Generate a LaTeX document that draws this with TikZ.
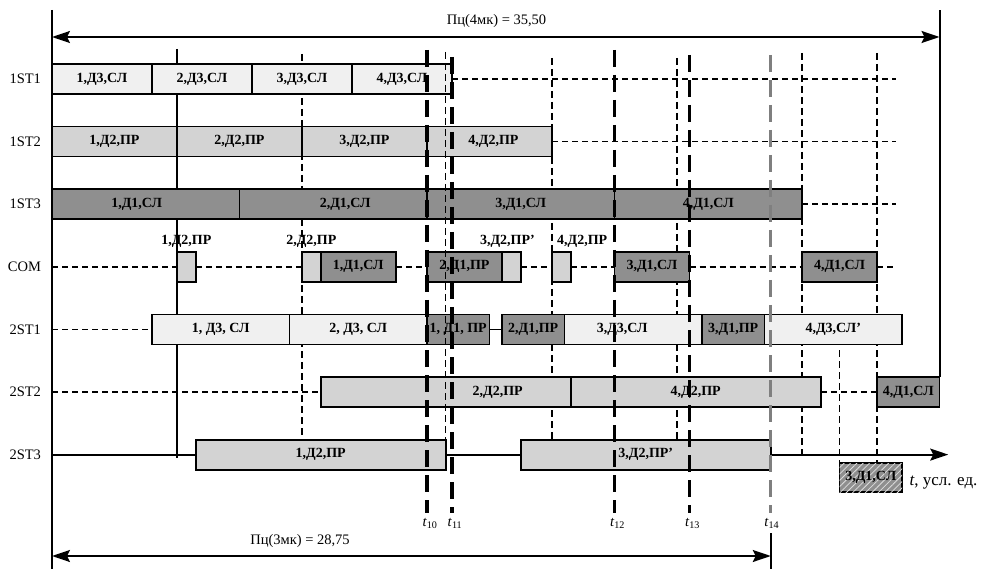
\documentclass[tikz,border=0pt]{standalone}
\usepackage{fontspec}
\setmainfont{Liberation Serif}
\usetikzlibrary{positioning,arrows.meta,patterns.meta}
\definecolor{segLight}{HTML}{F0F0F0}
\definecolor{segMid}{HTML}{D3D3D3}
\definecolor{segDark}{HTML}{8F8F8F}
\definecolor{markGray}{HTML}{7F7F7F}
\newcommand{\tmark}[1]{\textit{t}\textsubscript{#1}}
\tikzset{
  seg/.style={draw, line width=1.8pt, minimum height=30pt, inner sep=0pt, outer sep=0pt, anchor=west, font=\fontsize{14}{16}\selectfont\bfseries},
  lightseg/.style={seg, fill=segLight},
  midseg/.style={seg, fill=segMid},
  darkseg/.style={seg, fill=segDark},
  hatchseg/.style={seg, fill=segDark, postaction={pattern={Lines[angle=45,distance=4.5pt,line width=0.8pt]}, pattern color=white!70!segDark}},
  seglab/.style={font=\fontsize{14}{16}\selectfont\bfseries, inner sep=0pt},
  comlab/.style={font=\fontsize{14}{16}\selectfont\bfseries, inner sep=1pt},
  rowlab/.style={anchor=east, font=\fontsize{14.5}{16}\selectfont},
  rowdash/.style={line width=1.8pt, dash pattern=on 6pt off 4pt},
  rowline/.style={line width=1.8pt},
  thindash/.style={line width=1.4pt, dash pattern=on 7pt off 4pt},
  thickdash/.style={line width=3.2pt, dash pattern=on 17pt off 8pt},
  spanarr/.style={{Stealth[length=18pt,width=12pt,inset=3pt]}-{Stealth[length=18pt,width=12pt,inset=3pt]}, line width=2pt},
  tlab/.style={font=\fontsize{14.5}{16}\selectfont, xshift=3pt}
}
\begin{document}
\begin{tikzpicture}[x=25pt, y=-1pt]
\useasboundingbox (-2.08,0) rectangle (37.64,569);
\coordinate (ax) at (0,10);
\coordinate (rend) at (33.75,10);

% guide lines behind the bars
\draw[line width=1.4pt] (5,49) -- (5,458);
\draw[thindash] (10,54) -- (10,440);
\draw[thindash] (20,58) -- (20,440);
\draw[thindash] (25,58) -- (25,440);
\draw[thindash] (30,53) -- (30,458);
\draw[thindash] (31.5,350) -- (31.5,463);
\draw[thindash] (33,53) -- (33,463);

% row labels
\node[rowlab] (l1) at (-0.3,79) {1ST1};
\node[rowlab] (l2) at (-0.3,141.6) {1ST2};
\node[rowlab] (l3) at (-0.3,204.2) {1ST3};
\node[rowlab] (l4) at (-0.3,266.8) {COM};
\node[rowlab] (l5) at (-0.3,329.4) {2ST1};
\node[rowlab] (l6) at (-0.3,392) {2ST2};
\node[rowlab] (l7) at (-0.3,454.6) {2ST3};

% 1ST1
\node[lightseg, minimum width=100pt] (a1) at (0,79) {1,Д3,СЛ};
\node[lightseg, minimum width=100pt, right=0pt of a1] (a2) {2,Д3,СЛ};
\node[lightseg, minimum width=100pt, right=0pt of a2] (a3) {3,Д3,СЛ};
\node[lightseg, minimum width=100pt, right=0pt of a3] (a4) {4,Д3,СЛ};
% 1ST2
\node[midseg, minimum width=125pt] (b1) at (0,141.6) {1,Д2,ПР};
\node[midseg, minimum width=125pt, right=0pt of b1] (b2) {2,Д2,ПР};
\node[midseg, minimum width=125pt, right=0pt of b2] (b3) {3,Д2,ПР};
\node[midseg, minimum width=125pt, right=0pt of b3, label={[seglab, xshift=4pt]center:4,Д2,ПР}] (b4) {};
% 1ST3
\node[darkseg, minimum width=187.5pt, label={[seglab, xshift=-9pt]center:1,Д1,СЛ}] (c1) at (0,204.2) {};
\node[darkseg, minimum width=187.5pt, right=0pt of c1, label={[seglab, xshift=12pt]center:2,Д1,СЛ}] (c2) {};
\node[darkseg, minimum width=187.5pt, right=0pt of c2] (c3) {3,Д1,СЛ};
\node[darkseg, minimum width=187.5pt, right=0pt of c3] (c4) {4,Д1,СЛ};
% COM
\node[midseg, minimum width=18.75pt] (m1) at (5,266.8) {};
\node[midseg, minimum width=18.75pt] (m2) at (10,266.8) {};
\node[darkseg, minimum width=75pt, right=0pt of m2] (m3) {1,Д1,СЛ};
\node[darkseg, minimum width=75pt] (m4) at (15,266.8) {2,Д1,ПР};
\node[midseg, minimum width=18.75pt, right=0pt of m4] (m5) {};
\node[midseg, minimum width=18.75pt] (m6) at (20,266.8) {};
\node[darkseg, minimum width=75pt] (m7) at (22.5,266.8) {3,Д1,СЛ};
\node[darkseg, minimum width=75pt] (m8) at (30,266.8) {4,Д1,СЛ};
\node[comlab, above=3pt of m1] (n1) {1,Д2,ПР};
\node[comlab, above=3pt of m2] (n2) {2,Д2,ПР};
\node[comlab, above=3pt of m5, xshift=-4pt] (n3) {3,Д2,ПР’};
\node[comlab, anchor=south west] (n4) at ([xshift=4pt,yshift=3pt]m6.north west) {4,Д2,ПР};
% 2ST1
\node[lightseg, minimum width=137.5pt] (d1) at (4,329.4) {1, Д3, СЛ};
\node[lightseg, minimum width=137.5pt, right=0pt of d1] (d2) {2, Д3, СЛ};
\node[darkseg, minimum width=62.5pt, right=0pt of d2] (d3) {1, Д1, ПР};
\node[darkseg, minimum width=62.5pt] (d4) at (18,329.4) {2,Д1,ПР};
\node[lightseg, minimum width=137.5pt, right=0pt of d4, label={[seglab, xshift=-11pt]center:3,Д3,СЛ}] (d5) {};
\node[darkseg, minimum width=62.5pt, right=0pt of d5] (d6) {3,Д1,ПР};
\node[lightseg, minimum width=137.5pt, right=0pt of d6] (d7) {4,Д3,СЛ’};
% 2ST2
\node[midseg, minimum width=250pt, label={[seglab, xshift=52pt]center:2,Д2,ПР}] (e1) at (10.75,392) {};
\node[midseg, minimum width=250pt, right=0pt of e1] (e2) {4,Д2,ПР};
\node[darkseg, minimum width=62.5pt] (e3) at (33,392) {4,Д1,СЛ};
% 2ST3
\node[midseg, minimum width=250pt] (f1) at (5.75,454.6) {1,Д2,ПР};
\node[midseg, minimum width=250pt] (f2) at (18.75,454.6) {3,Д2,ПР’};
\node[hatchseg, minimum width=62.5pt, minimum height=29pt] (h) at (31.5,477.5) {3,Д1,СЛ};
\node[right=4pt of h, yshift=-5pt, font=\fontsize{17}{20}\selectfont] (tax) {\textit{t}, усл. ед.};

% row lines
\draw[rowdash] (a4.east) -- (rend |- a4);
\draw[rowdash] (b4.east) -- (rend |- b4);
\draw[rowdash] (c4.east) -- (rend |- c4);
\draw[rowdash] (ax |- m1) -- (m1.west);
\draw[rowdash] (m1.east) -- (m2.west);
\draw[rowdash] (m3.east) -- (m4.west);
\draw[rowdash] (m5.east) -- (m6.west);
\draw[rowdash] (m6.east) -- (m7.west);
\draw[rowdash] (m7.east) -- (m8.west);
\draw[rowdash] (m8.east) -- ([xshift=-2pt]rend |- m8);
\draw[rowdash] (ax |- d1) -- (d1.west);
\draw[rowline] (d3.east) -- (d4.west);
\draw[rowdash] (ax |- e1) -- (e1.west);
\draw[rowdash] (e2.east) -- (e3.west);
\draw[rowline] (ax |- f1) -- (f1.west);
\draw[rowline] (f1.east) -- (f2.west);
\draw[rowline, -{Stealth[length=18pt,width=12pt,inset=3pt]}] (f2.east) -- (35.85,454.6);

% time marks
\draw[thindash] (15.75,52) -- (15.75,440);
\draw[thickdash] (15,50) -- (15,513) node[tlab, below] {\tmark{10}};
\draw[thickdash] (16,57) -- (16,513) node[tlab, below] {\tmark{11}};
\draw[thickdash] (22.5,50) -- (22.5,513) node[tlab, below] {\tmark{12}};
\draw[thickdash] (25.5,55) -- (25.5,513) node[tlab, below] {\tmark{13}};
\draw[thickdash, markGray] (28.75,55) -- (28.75,513) node[tlab, below, black, xshift=-2pt] {\tmark{14}};

% axes and spans
\draw[line width=2pt] (ax) -- (0,569);
\draw[line width=2pt] (e3.north east) -- (e3.north east |- ax);
\draw[line width=2pt] (28.75,533) -- (28.75,569);
\draw[spanarr] (0,37) -- (35.5,37);
\node[font=\fontsize{14.5}{16}\selectfont] (p4) at (17.78,21) {Пц(4мк) = 35,50};
\draw[spanarr] (0,556) -- (28.75,556);
\node[font=\fontsize{14.5}{16}\selectfont] (p3) at (9.92,541) {Пц(3мк) = 28,75};
\end{tikzpicture}
\end{document}
